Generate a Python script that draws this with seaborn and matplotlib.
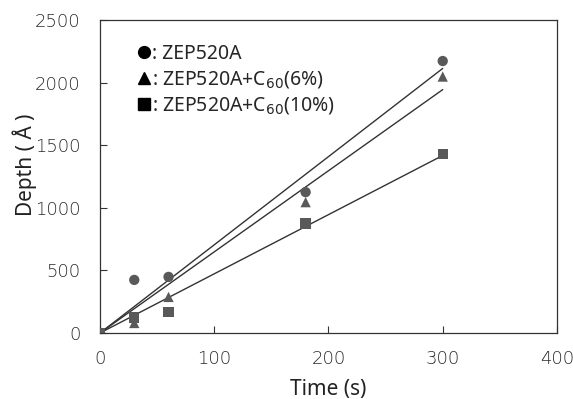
import matplotlib
matplotlib.use("Agg")
import matplotlib.pyplot as plt
from matplotlib.lines import Line2D
import numpy as np
import pandas as pd
import seaborn as sns

time_s = [0, 30, 60, 180, 300]
depth_zep = [0, 424, 448, 1125, 2172]
depth_c60_6 = [0, 80, 288, 1045, 2048]
depth_c60_10 = [0, 125, 168, 875, 1428]
series_names = ['ZEP520A', 'ZEP520A+C60(6%)', 'ZEP520A+C60(10%)']
legend_labels = [': ZEP520A', ': ZEP520A+C$_{60}$(6%)', ': ZEP520A+C$_{60}$(10%)']
marker_shapes = ['o', '^', 's']

df = pd.DataFrame({
    'time': time_s * 3,
    'depth': depth_zep + depth_c60_6 + depth_c60_10,
    'sample': sum([[n] * len(time_s) for n in series_names], []),
})

# linear trend lines forced through the origin
fits = []
for name in series_names:
    sub = df[df['sample'] == name]
    x = np.array(sub['time'], dtype=float)
    y = np.array(sub['depth'], dtype=float)
    k = (x * y).sum() / (x * x).sum()
    fits.append(pd.DataFrame({'time': [0, 300], 'depth': [0, k * 300], 'sample': name}))
fit_df = pd.concat(fits)

sns.set_style('ticks', {'xtick.direction': 'in', 'ytick.direction': 'in'})
plt.rcParams['font.family'] = ['DejaVu Sans']

fig = plt.figure(figsize=(5.73, 3.99), dpi=100)
ax = fig.add_axes([0.1745, 0.1654, 0.7975, 0.7846])

sns.lineplot(data=fit_df, x='time', y='depth', units='sample', estimator=None,
             color='#333333', linewidth=1.0, ax=ax, legend=False)
sns.scatterplot(data=df, x='time', y='depth', style='sample', markers=marker_shapes,
                color='#595959', s=55, edgecolor='none', ax=ax, legend=False, zorder=3)

ax.set_xlim(0, 400)
ax.set_ylim(0, 2500)
ax.set_xticks([0, 100, 200, 300, 400])
ax.set_yticks([0, 500, 1000, 1500, 2000, 2500])
ax.tick_params(length=5, width=0.8, color='#333333', labelcolor='#2a2a2a')
ax.tick_params(axis='x', pad=12)
ax.tick_params(axis='y', pad=14)
for lab in ax.get_xticklabels() + ax.get_yticklabels():
    lab.set_fontsize(13)
    lab.set_fontweight('light')
for sp in ax.spines.values():
    sp.set_visible(True)
    sp.set_color('#333333')
    sp.set_linewidth(0.9)

ax.set_xlabel('Time (s)', fontsize=15, family=['Noto Sans', 'DejaVu Sans'],
              color='#222222', labelpad=8)
ax.set_ylabel('Depth ( Å )', fontsize=15, family=['Noto Sans', 'DejaVu Sans'],
              color='#222222')
ax.yaxis.set_label_coords(-0.138, 0.537)

handles = [Line2D([], [], linestyle='none', marker=m, color='black', markersize=8.5)
           for m in marker_shapes]
ax.legend(handles, legend_labels, loc='upper left', bbox_to_anchor=(0.045, 0.98),
          frameon=False, handlelength=0.6, handletextpad=0.1, labelspacing=0.27,
          prop={'family': ['Noto Sans', 'DejaVu Sans'], 'size': 14})

fig.savefig('out.png', dpi=100)
